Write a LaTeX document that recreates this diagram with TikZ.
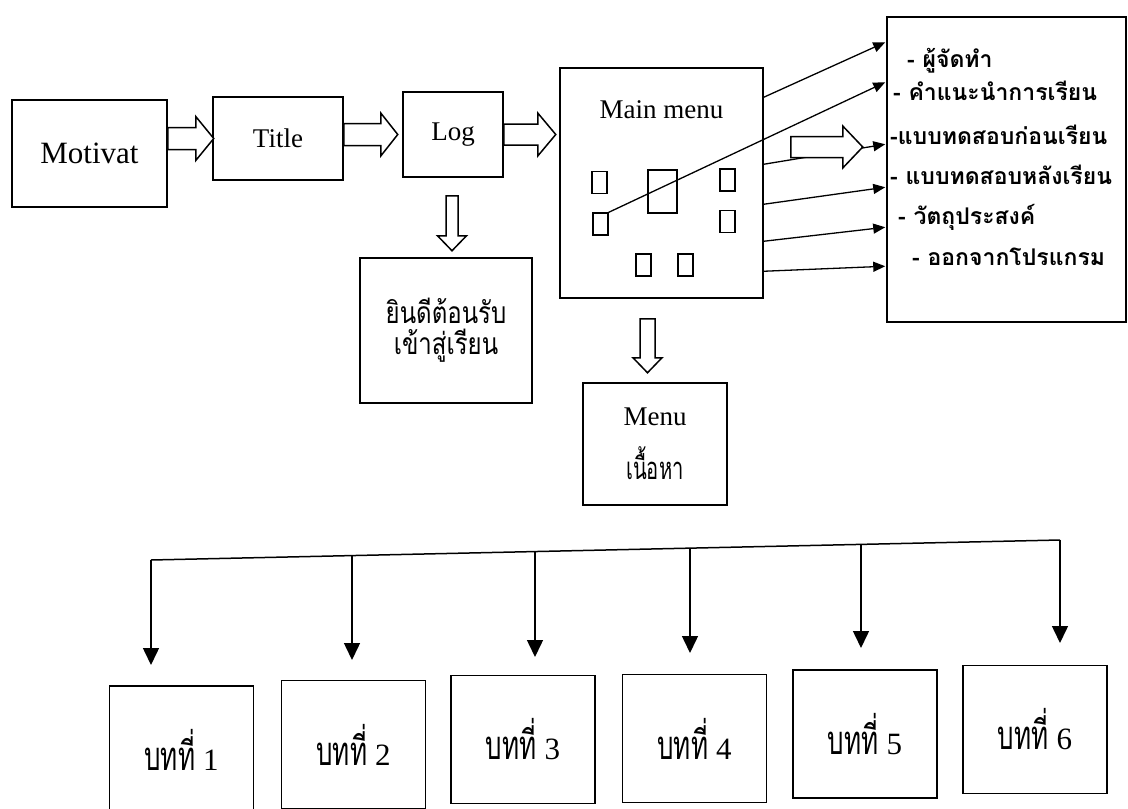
\documentclass[tikz,border=0pt]{standalone}
\usepackage{fontspec}
\setmainfont{Liberation Serif}
\newfontfamily\thaifont[Script=Thai]{Loma}
\newfontfamily\thainarrow[Script=Thai, FakeStretch=0.8]{Loma}
\newfontfamily\thaicond[Script=Thai, FakeStretch=0.65]{Loma}
\usetikzlibrary{arrows.meta,calc}

\tikzset{
  box/.style={draw, line width=1.5pt, inner sep=0pt, align=center,
    font=\fontsize{27}{32}\selectfont},
  icon/.style={draw, line width=1.3pt, inner sep=0pt,
    minimum width=15pt, minimum height=22pt},
  item/.style={anchor=base west, inner sep=0pt,
    font=\thaifont\bfseries\fontsize{23}{26}\selectfont},
  chap/.style={box, minimum width=144pt, minimum height=128pt,
    font=\fontsize{31}{36}\selectfont},
  tip/.style={line width=1.3pt, -{Triangle[length=12pt,width=10pt]}},
  drop/.style={line width=1.5pt, -{Triangle[length=17pt,width=16pt]}},
  pics/fatarrow/.style args={#1/#2/#3/#4}{code={
    \draw[line width=1.5pt, fill=white] (0,-#2) -- (#1-#4,-#2) -- (#1-#4,-#3)
      -- (#1,0) -- (#1-#4,#3) -- (#1-#4,#2) -- (0,#2) -- cycle;
  }}
}

\begin{document}
\begin{tikzpicture}[x=1pt,y=-1pt]
  \useasboundingbox[fill=white] (0,0) rectangle (1128,809);
  \clip (0,0) rectangle (1128,809);

  % Opening screens
  \node[box, minimum width=155pt, minimum height=107pt,
    font=\fontsize{31}{36}\selectfont] (mot) at (89.5,153.5) {Motivat};
  \node[box, minimum width=130pt, minimum height=83pt] (tit) at (278,138.5) {Title};
  \node[box, minimum width=100pt, minimum height=85pt] (log) at (453,134.5) {Log};
  \node[box, minimum width=172pt, minimum height=145pt,
    font=\thainarrow\fontsize{30}{31}\selectfont] (welc) at (446,330.5)
    {ยินดีต้อนรับ\\เข้าสู่เรียน};

  \pic at (mot.east |- tit.west) {fatarrow=46/11/22/18};
  \pic at (tit.east |- log.west) {fatarrow=54/11/21.5/17};
  \pic at (log.east) {fatarrow=52/10.5/21.5/18};
  \pic[rotate=-90] at ($(log.south)+(-1,18)$) {fatarrow=55/6/14.5/15};

  % Main menu
  \node[box, minimum width=203pt, minimum height=230pt] (main) at (661.5,183) {};
  \node[font=\fontsize{27}{32}\selectfont] (mlbl) at ($(main.north)+(0,42)$) {Main menu};
  \node[icon] (r1) at (599.5,182.5) {};
  \node[icon, minimum width=29pt, minimum height=43pt] (r2) at (662.5,191.5) {};
  \node[icon] (r3) at (727.5,180) {};
  \node[icon] (r4) at (600.5,224) {};
  \node[icon] (r5) at (727.5,221.5) {};
  \node[icon] (r6) at (643.5,265) {};
  \node[icon] (r7) at (685.5,265) {};

  \node[box, minimum width=144pt, minimum height=122pt] (menu) at (655,444)
    {Menu\\[20pt]{\thaicond\fontsize{31}{32}\selectfont เนื้อหา}};
  \pic[rotate=-90] at ($(main.south)+(-14,20)$) {fatarrow=54/7.5/14.5/15};

  % Menu list
  \node[box, minimum width=239pt, minimum height=305pt] (list) at (1006.5,169.5) {};
  \foreach \x/\y/\t [count=\i] in {907/67/{- ผู้จัดทำ}, 893/100/{- คำแนะนำการเรียน},
      890/144/{-แบบทดสอบก่อนเรียน}, 890/184/{- แบบทดสอบหลังเรียน},
      898/224/{- วัตถุประสงค์}, 912/265/{- ออกจากโปรแกรม}}
    \node[item] (it\i) at (\x,\y) {\t};

  \foreach \a/\b in {30/26, 97/128, 137/171, 174/211, 204/250}
    \draw[tip] ($(main.north east)+(0,\a)$) -- ($(list.north west)+(-1,\b)$);
  \draw[tip] (r4.north east) -- ($(list.north west)+(-1,66)$);
  \pic at ($(main.east)+(27,-36)$) {fatarrow=72/10.5/21/20};

  % Chapters
  \foreach \x/\y/\t [count=\i] in {151/560/665, 352/555.6/660, 535/551.6/657,
      690/548.1/653, 861/544.4/648, 1060/540/643} {
    \coordinate (j\i) at (\x,\y);
    \coordinate (e\i) at (\x,\t);
  }
  \draw[line width=1.5pt] (j1) -- (j6);
  \foreach \i in {1,...,6}
    \draw[drop] (j\i) -- (e\i);

  \foreach \x/\y [count=\i] in {181.5/750, 353.5/744.5, 523/739.5,
      694.5/738.5, 865/734, 1035/729.5}
    \node[chap] (ch\i) at (\x,\y) {{\thaicond\fontsize{40}{40}\selectfont บทที่} \i};

\end{tikzpicture}
\end{document}
